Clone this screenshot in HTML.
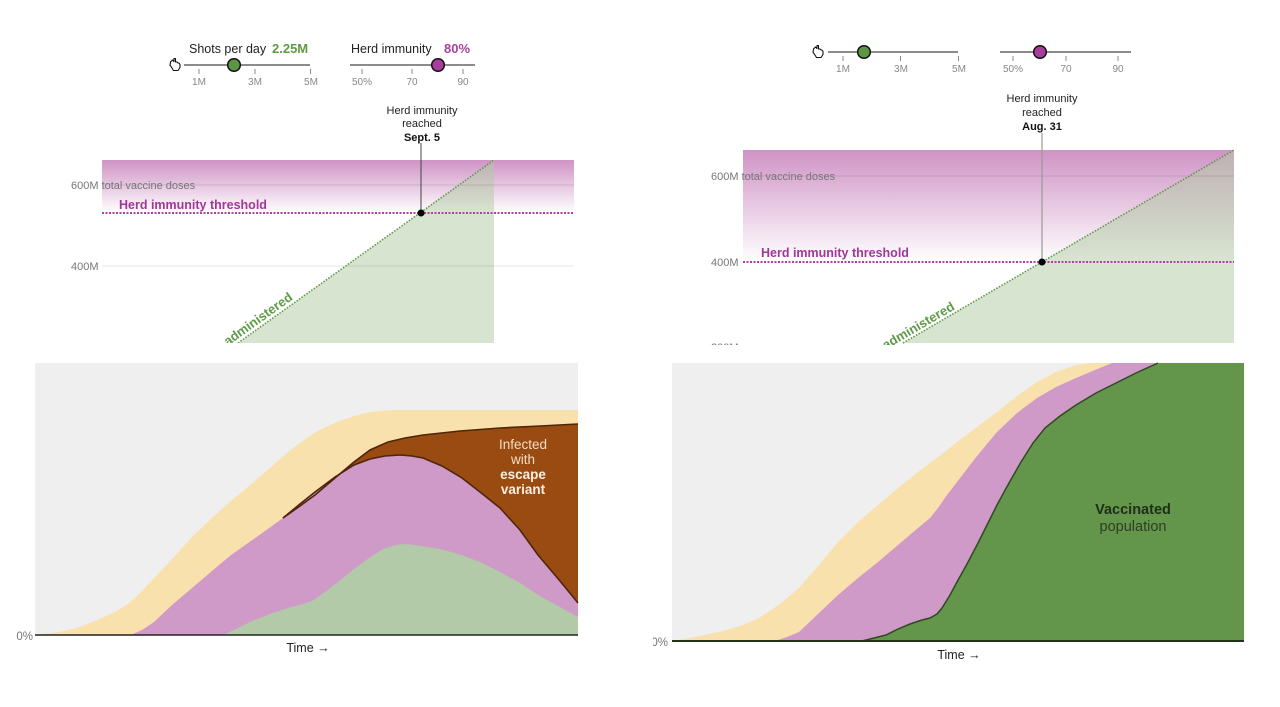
<!DOCTYPE html>
<html><head><meta charset="utf-8"><style>
html,body{margin:0;padding:0;background:#fff;}
svg{display:block;}
text{font-family:"Liberation Sans",Arial,sans-serif;}
</style></head><body>
<svg width="1280" height="707" viewBox="0 0 1280 707" xmlns="http://www.w3.org/2000/svg">
<defs>
<linearGradient id="pgL" x1="0" y1="0" x2="0" y2="1">
<stop offset="0" stop-color="#cf93c5" stop-opacity="1"/>
<stop offset="1" stop-color="#cf93c5" stop-opacity="0"/>
</linearGradient>
<linearGradient id="pgR" x1="0" y1="0" x2="0" y2="1">
<stop offset="0" stop-color="#cf93c5" stop-opacity="1"/>
<stop offset="1" stop-color="#cf93c5" stop-opacity="0"/>
</linearGradient>
<clipPath id="clipL"><rect x="0" y="140" width="640" height="203"/></clipPath>
<clipPath id="clipR"><rect x="653" y="130" width="627" height="215"/></clipPath>
<clipPath id="clipR2"><rect x="653" y="350" width="627" height="357"/></clipPath>
</defs>
<rect width="1280" height="707" fill="#fff"/>

<!-- ===== LEFT PANEL CONTROLS ===== -->
<g>
<path d="M170.5 62 l2 -2 l1.5 1.5 l0 -3 l1.5 0 l0 3.5 l1.5 0 l1 1 l1 0 l1 1.5 l0 3 l-2 3 l-4.5 0 l-2.5 -4 l-1 -1 z" fill="#fff" stroke="#111" stroke-width="1.1" stroke-linejoin="round"/>
<text x="189" y="53" font-size="12.5" fill="#222">Shots per day</text>
<text x="272" y="53" font-size="13" font-weight="bold" fill="#5e9a47">2.25M</text>
<line x1="184" y1="65" x2="310" y2="65" stroke="#666" stroke-width="1.5"/>
<g stroke="#888" stroke-width="1"><line x1="199" y1="69" x2="199" y2="74"/><line x1="255" y1="69" x2="255" y2="74"/><line x1="310.5" y1="69" x2="310.5" y2="74"/></g>
<g font-size="10" fill="#888" text-anchor="middle"><text x="199" y="85">1M</text><text x="255" y="85">3M</text><text x="311" y="85">5M</text></g>
<circle cx="234" cy="65" r="6.3" fill="#5e9545" stroke="#111" stroke-width="1.5"/>

<text x="351" y="53" font-size="12.5" fill="#222">Herd immunity</text>
<text x="444" y="53" font-size="13" font-weight="bold" fill="#a8409c">80%</text>
<line x1="350" y1="65" x2="475" y2="65" stroke="#666" stroke-width="1.5"/>
<g stroke="#888" stroke-width="1"><line x1="362" y1="69" x2="362" y2="74"/><line x1="412" y1="69" x2="412" y2="74"/><line x1="463" y1="69" x2="463" y2="74"/></g>
<g font-size="10" fill="#888" text-anchor="middle"><text x="362" y="85">50%</text><text x="412" y="85">70</text><text x="463" y="85">90</text></g>
<circle cx="438" cy="65" r="6.3" fill="#a83d9e" stroke="#111" stroke-width="1.5"/>

<g font-size="11" fill="#222" text-anchor="middle">
<text x="422" y="114">Herd immunity</text>
<text x="422" y="127">reached</text>
<text x="422" y="141" font-weight="bold" fill="#111">Sept. 5</text>
</g>
</g>

<!-- ===== LEFT TOP CHART ===== -->
<g clip-path="url(#clipL)">
<rect x="102" y="160" width="472" height="53" fill="url(#pgL)"/>
<polygon points="238,343 494,160 494,343" fill="rgb(175,203,161)" fill-opacity="0.5"/>
<line x1="102" y1="185" x2="574" y2="185" stroke="#000" stroke-opacity="0.1" stroke-width="1"/>
<line x1="102" y1="266" x2="574" y2="266" stroke="#000" stroke-opacity="0.1" stroke-width="1"/>
<line x1="102" y1="213" x2="574" y2="213" stroke="#b13fa4" stroke-width="2" stroke-dasharray="2 1.5"/>
<line x1="238" y1="343" x2="494" y2="160" stroke="#5d9a45" stroke-width="1.6" stroke-dasharray="1.5 1.5"/>
<line x1="421" y1="143" x2="421" y2="213" stroke="#444" stroke-width="1"/>
<circle cx="421" cy="213" r="3.5" fill="#000"/>
<text x="71" y="189" font-size="11" fill="#777">600M total vaccine doses</text>
<text x="71" y="270" font-size="11" fill="#777">400M</text>
<text x="119" y="209" font-size="12.5" font-weight="bold" fill="#a3369a">Herd immunity threshold</text>
<text x="0" y="0" font-size="13" font-weight="bold" fill="#5e9a47" text-anchor="end" transform="translate(293.5,299) rotate(-35.6)">administered</text>
</g>

<!-- ===== LEFT BOTTOM CHART ===== -->
<rect x="35" y="363" width="543" height="272" fill="#efefef"/>
<polygon fill="#f9e1ae" points="35,635 60,632 77,628 95,621 115,612 128,604 138,595 155,577 173,558 192,537 212,518 231,501 250,485 270,468 288,452 304,440 319,430 337,422 354,416 370,412 385,410.5 396,410 578,410 578,635"/>
<polygon fill="#9a4b12" points="283,518 300,506 315,495 335,478 354,462 370,450 388,442 405,438 423,435 460,431 500,428 540,426 578,424 578,635 283,635"/>
<polygon fill="#cf9ac8" points="131,635 142,630 154,622 172,605 192,588 212,571 231,555 258,536 283,518 300,504 315,492 335,477 354,465 370,459 385,456 400,455 412,456 423,458 442,466 462,478 480,492 500,508 520,530 538,555 560,581 578,603 578,635"/>
<polyline fill="none" stroke="#4f250a" stroke-width="1.6" points="283,518 300,506 315,495 335,478 354,462 370,450 388,442 405,438 423,435 460,431 500,428 540,426 578,424"/>
<polyline fill="none" stroke="#4f250a" stroke-width="1.6" points="283,518 300,504 315,492 335,477 354,465 370,459 385,456 400,455 412,456 423,458 442,466 462,478 480,492 500,508 520,530 538,555 560,581 578,603"/>
<polygon fill="#b2caa7" points="223,635 236,629 250,622 270,614 288,608 300,605 312,601 325,592 338,582 354,569 369,558 383,549 396,545 405,544 415,545 440,549 462,555 482,563 500,572 520,583 538,595 558,606 578,617 578,635"/>
<line x1="35" y1="635" x2="578" y2="635" stroke="#222" stroke-width="1.5"/>
<text x="33" y="640" font-size="11.5" fill="#777" text-anchor="end">0%</text>
<text x="308" y="652" font-size="12.5" fill="#222" text-anchor="middle">Time →</text>
<g text-anchor="middle" font-size="13.5">
<text x="523" y="449" fill="#f3dcc4">Infected</text>
<text x="523" y="464" fill="#f3dcc4">with</text>
<text x="523" y="479" fill="#fcefe0" font-weight="bold">escape</text>
<text x="523" y="494" fill="#fcefe0" font-weight="bold">variant</text>
</g>

<!-- ===== RIGHT PANEL CONTROLS ===== -->
<g>
<path d="M813.5 49 l2 -2 l1.5 1.5 l0 -3 l1.5 0 l0 3.5 l1.5 0 l1 1 l1 0 l1 1.5 l0 3 l-2 3 l-4.5 0 l-2.5 -4 l-1 -1 z" fill="#fff" stroke="#111" stroke-width="1.1" stroke-linejoin="round"/>
<line x1="828" y1="52" x2="958" y2="52" stroke="#666" stroke-width="1.5"/>
<g stroke="#888" stroke-width="1"><line x1="843" y1="56" x2="843" y2="61"/><line x1="900.5" y1="56" x2="900.5" y2="61"/><line x1="958.5" y1="56" x2="958.5" y2="61"/></g>
<g font-size="10" fill="#888" text-anchor="middle"><text x="843" y="72">1M</text><text x="901" y="72">3M</text><text x="959" y="72">5M</text></g>
<circle cx="864" cy="52" r="6.3" fill="#5e9545" stroke="#111" stroke-width="1.5"/>

<line x1="1000" y1="52" x2="1131" y2="52" stroke="#666" stroke-width="1.5"/>
<g stroke="#888" stroke-width="1"><line x1="1013" y1="56" x2="1013" y2="61"/><line x1="1066" y1="56" x2="1066" y2="61"/><line x1="1118" y1="56" x2="1118" y2="61"/></g>
<g font-size="10" fill="#888" text-anchor="middle"><text x="1013" y="72">50%</text><text x="1066" y="72">70</text><text x="1118" y="72">90</text></g>
<circle cx="1040" cy="52" r="6.3" fill="#a83d9e" stroke="#111" stroke-width="1.5"/>

<g font-size="11" fill="#222" text-anchor="middle">
<text x="1042" y="102">Herd immunity</text>
<text x="1042" y="116">reached</text>
<text x="1042" y="130" font-weight="bold" fill="#111">Aug. 31</text>
</g>
</g>

<!-- ===== RIGHT TOP CHART ===== -->
<g clip-path="url(#clipR)">
<rect x="743" y="150" width="491" height="112" fill="url(#pgR)"/>
<polygon points="903,343 1234,150 1234,343" fill="rgb(175,203,161)" fill-opacity="0.5"/>
<line x1="743" y1="176" x2="1234" y2="176" stroke="#000" stroke-opacity="0.1" stroke-width="1"/>
<line x1="743" y1="262" x2="1234" y2="262" stroke="#b13fa4" stroke-width="2" stroke-dasharray="2 1.5"/>
<line x1="903" y1="343" x2="1234" y2="150" stroke="#5d9a45" stroke-width="1.6" stroke-dasharray="1.5 1.5"/>
<line x1="1042" y1="133" x2="1042" y2="262" stroke="#999" stroke-width="1.2"/>
<circle cx="1042" cy="262" r="3.5" fill="#000"/>
<text x="711" y="180" font-size="11" fill="#777">600M total vaccine doses</text>
<text x="711" y="266" font-size="11" fill="#777">400M</text>
<text x="711" y="351" font-size="11" fill="#777">200M</text>
<text x="761" y="257" font-size="12.5" font-weight="bold" fill="#a3369a">Herd immunity threshold</text>
<text x="0" y="0" font-size="13" font-weight="bold" fill="#5e9a47" text-anchor="end" transform="translate(955.5,309) rotate(-30.3)">administered</text>
</g>

<!-- ===== RIGHT BOTTOM CHART ===== -->
<rect x="672" y="363" width="572" height="278" fill="#efefef"/>
<polygon fill="#f9e1ae" points="672,641 695,637 719,632 740,626 759,618 780,604 799,588 818,566 838,542 858,522 878,505 898,488 918,472 938,457 957,442 977,427 997,412 1017,396 1037,382 1056,372 1076,365 1092,363 1244,363 1244,641"/>
<polygon fill="#cf9ac8" points="775,641 787,637 799,632 818,614 838,595 858,578 878,562 898,545 918,528 930,518 938,508 947,495 957,482 977,456 997,432 1017,413 1037,398 1056,387 1076,378 1095,370 1112,363 1244,363 1244,641"/>
<polygon fill="#63964b" points="862,641 870,639 878,637 886,635 898,629 910,624 922,620 930,618 937,614 942,608 950,595 957,582 967,564 977,545 987,525 997,505 1009,483 1021,462 1033,443 1045,428 1060,416 1076,405 1096,393 1116,383 1136,373 1158,363 1244,363 1244,641"/>
<polyline fill="none" stroke="#2f4a22" stroke-width="1.5" points="862,641 870,639 878,637 886,635 898,629 910,624 922,620 930,618 937,614 942,608 950,595 957,582 967,564 977,545 987,525 997,505 1009,483 1021,462 1033,443 1045,428 1060,416 1076,405 1096,393 1116,383 1136,373 1158,363"/>
<line x1="672" y1="641" x2="1244" y2="641" stroke="#1f3318" stroke-width="2"/>
<g clip-path="url(#clipR2)"><text x="668" y="646" font-size="11.5" fill="#777" text-anchor="end">0%</text></g>
<text x="959" y="659" font-size="12.5" fill="#222" text-anchor="middle">Time →</text>
<text x="1133" y="514" font-size="14.5" font-weight="bold" fill="#1f2e18" text-anchor="middle">Vaccinated</text>
<text x="1133" y="531" font-size="14.5" fill="#2c3f22" text-anchor="middle">population</text>
</svg>
</body></html>
